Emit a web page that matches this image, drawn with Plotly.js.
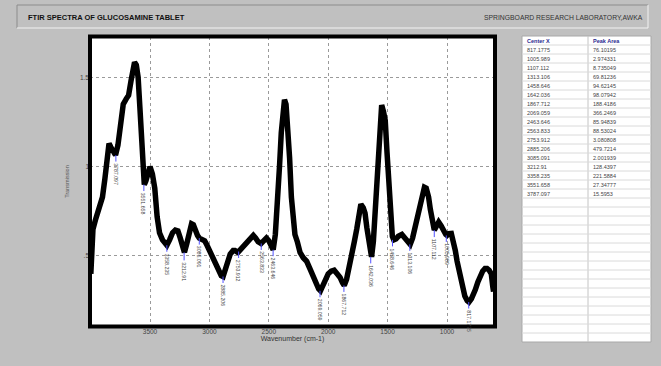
<!DOCTYPE html>
<html>
<head>
<meta charset="utf-8">
<script src="https://cdn.plot.ly/plotly-3.0.1.min.js"></script>
<style>html,body{margin:0;padding:0;background:#c0c0c0;}#chart{width:661px;height:366px;}</style>
</head>
<body>
<div id="chart"></div>
<script>
// ---- data ----
const wavenumber = [3998,3990,3980,3960,3940,3920,3900,3880,3860,3845,3830,3810,3790,3770,3755,3740,3725,3700,3680,3660,3640,3630,3615,3600,3585,3570,3558,3548,3535,3515,3500,3480,3460,3440,3420,3395,3375,3358,3335,3310,3287,3265,3245,3225,3210,3190,3170,3150,3135,3115,3100,3085,3060,3040,3020,3000,2970,2945,2920,2900,2885,2865,2845,2825,2800,2785,2760,2740,2710,2680,2650,2630,2610,2590,2565,2540,2520,2500,2480,2463,2445,2425,2410,2395,2380,2368,2355,2340,2325,2310,2295,2280,2260,2237,2210,2181,2155,2125,2100,2080,2065,2045,2025,2000,1975,1950,1925,1900,1880,1865,1845,1820,1800,1780,1760,1740,1725,1705,1690,1675,1660,1645,1635,1620,1605,1590,1575,1562,1550,1535,1520,1505,1490,1475,1460,1448,1430,1410,1380,1355,1330,1310,1290,1270,1250,1230,1210,1190,1175,1155,1140,1125,1107,1090,1070,1050,1030,1010,1000,985,964,945,930,915,900,885,868,850,830,815,795,780,762,740,720,700,680,663,645,627,615,608];
const transmission = [0.40,0.55,0.65,0.70,0.74,0.77,0.83,0.93,1.08,1.13,1.11,1.08,1.065,1.12,1.20,1.30,1.35,1.38,1.40,1.48,1.56,1.585,1.57,1.50,1.33,1.10,0.95,0.90,0.92,0.98,1.00,0.96,0.88,0.72,0.63,0.59,0.57,0.56,0.59,0.63,0.645,0.64,0.60,0.54,0.52,0.57,0.64,0.68,0.675,0.63,0.615,0.60,0.59,0.585,0.56,0.53,0.48,0.44,0.41,0.39,0.385,0.42,0.47,0.51,0.53,0.53,0.52,0.535,0.55,0.575,0.60,0.615,0.60,0.58,0.57,0.59,0.60,0.585,0.55,0.535,0.62,0.80,1.00,1.19,1.32,1.375,1.35,1.22,1.05,0.83,0.70,0.62,0.58,0.52,0.49,0.47,0.43,0.38,0.34,0.315,0.305,0.33,0.37,0.40,0.415,0.42,0.40,0.38,0.35,0.335,0.37,0.44,0.50,0.58,0.65,0.75,0.79,0.77,0.74,0.66,0.58,0.50,0.495,0.58,0.75,0.95,1.18,1.30,1.345,1.31,1.26,1.08,0.88,0.70,0.61,0.59,0.595,0.61,0.62,0.60,0.575,0.565,0.60,0.66,0.72,0.79,0.85,0.885,0.88,0.83,0.76,0.70,0.645,0.665,0.69,0.67,0.64,0.62,0.615,0.625,0.626,0.58,0.53,0.47,0.42,0.36,0.31,0.275,0.25,0.242,0.26,0.28,0.31,0.355,0.39,0.415,0.43,0.43,0.42,0.40,0.33,0.30];

const peakCenters = ['817.1775','1005.989','1107.112','1313.106','1458.646','1642.036','1867.712','2069.059','2463.646','2563.833','2753.912','2885.206','3085.091','3212.91','3358.235','3551.658','3787.097'];
const peakAreas   = ['76.10195','2.974331','8.735049','69.81236','94.62145','98.07942','188.4186','366.2469','85.94839','88.53024','3.080808','479.7214','2.001939','128.4397','221.5884','27.34777','15.5953'];
const peakLabelY  = [0.242,0.615,0.645,0.565,0.59,0.495,0.335,0.305,0.535,0.57,0.525,0.385,0.60,0.52,0.56,0.90,1.065];

const xTickVals = [3500,3000,2500,2000,1500,1000];
const xTickText = ['3500','3000','2500','2000','1500','1000'];
const yTickVals = [0.5,1,1.5];
const yTickText = ['.5','1','1.5'];

const chartTitle = 'FTIR SPECTRA OF GLUCOSAMINE TABLET';
const labName = 'SPRINGBOARD RESEARCH LABORATORY,AWKA';
const xTitle = 'Wavenumber (cm-1)';
const yTitle = 'Transmission';
const tableHeader = ['Center X','Peak Area'];
const tableRowCount = 33;   // data rows + empty rows shown in the grid

// ---- build ----
const W = 661, H = 366;
const px = v => v / W, py = v => 1 - v / H;
const FONT = 'Liberation Sans, Arial, sans-serif';

const traces = [{
  type: 'scatter', mode: 'lines', x: wavenumber, y: transmission,
  line: {color: '#000', width: 5.5, shape: 'linear'},
  hoverinfo: 'skip'
}];

const annotations = [
  {xref: 'paper', yref: 'paper', x: px(26), y: py(17), xanchor: 'left', yanchor: 'middle',
   text: '<b>' + chartTitle + '</b>', showarrow: false, font: {family: FONT, size: 7.5, color: '#111'}},
  {xref: 'paper', yref: 'paper', x: px(645), y: py(17), xanchor: 'right', yanchor: 'middle',
   text: labName, showarrow: false, font: {family: FONT, size: 6.8, color: '#333'}}
];
peakCenters.forEach((c, i) => {
  annotations.push({
    xref: 'x', yref: 'y', x: parseFloat(c), y: peakLabelY[i],
    text: c, textangle: 90, showarrow: true, arrowhead: 0, arrowwidth: 1,
    arrowcolor: '#5050ff', ax: 0, ay: 19, standoff: 0,
    font: {family: FONT, size: 5.2, color: '#444'}
  });
});

const shapes = [
  {type: 'path', xref: 'paper', yref: 'paper',
   path: `M ${px(17)} ${py(28)} L ${px(17)} ${py(5)} L ${px(648)} ${py(5)}`,
   line: {color: '#8c8c8c', width: 1}},
  {type: 'path', xref: 'paper', yref: 'paper',
   path: `M ${px(648)} ${py(5)} L ${px(648)} ${py(28)} L ${px(17)} ${py(28)}`,
   line: {color: '#f2f2f2', width: 1}},
  {type: 'rect', xref: 'paper', yref: 'paper', x0: px(90), x1: px(495), y0: py(326.5), y1: py(36.5),
   line: {color: '#000', width: 4}, fillcolor: 'rgba(0,0,0,0)'}
];

// table grid (layout geometry)
const TL = 522, TR = 651, TC = 588, TT = 36, RH = 9;
const TB = TT + RH * (tableRowCount + 1);
shapes.push({type: 'rect', xref: 'paper', yref: 'paper', x0: px(TL), x1: px(TR), y0: py(TB), y1: py(TT),
  fillcolor: '#ffffff', line: {color: '#a8a8a8', width: 1}, layer: 'below'});
shapes.push({type: 'line', xref: 'paper', yref: 'paper', x0: px(TC), x1: px(TC), y0: py(TB), y1: py(TT),
  line: {color: '#c4c4c4', width: 1}});
for (let r = 1; r <= tableRowCount; r++) {
  const yy = TT + r * RH;
  shapes.push({type: 'line', xref: 'paper', yref: 'paper', x0: px(TL), x1: px(TR), y0: py(yy), y1: py(yy),
    line: {color: '#dadada', width: 1}});
}
const cellText = (txt, col, row, opts) => ({
  xref: 'paper', yref: 'paper', x: px((col === 0 ? TL : TC) + 3), y: py(TT + row * RH + RH / 2 + 0.5),
  xanchor: 'left', yanchor: 'middle', text: txt, showarrow: false,
  font: Object.assign({family: FONT, size: 5.5, color: '#444'}, opts || {})
});
annotations.push(cellText('<b>' + tableHeader[0] + '</b>', 0, 0, {color: '#2a2a90'}));
annotations.push(cellText('<b>' + tableHeader[1] + '</b>', 1, 0, {color: '#2a2a90'}));
peakCenters.forEach((c, i) => {
  annotations.push(cellText(c, 0, i + 1));
  annotations.push(cellText(peakAreas[i], 1, i + 1));
});

const layout = {
  width: W, height: H,
  margin: {l: 0, r: 0, t: 0, b: 0},
  paper_bgcolor: '#c0c0c0', plot_bgcolor: '#ffffff',
  showlegend: false,
  font: {family: FONT},
  xaxis: {
    domain: [px(90), px(495)], range: [4005, 596],
    tickvals: xTickVals, ticktext: xTickText,
    showgrid: true, gridcolor: '#9a9a9a', griddash: 'dot', gridwidth: 1,
    zeroline: false, showline: false, ticks: '',
    tickfont: {family: FONT, size: 6.5, color: '#444'},
    title: {text: xTitle, font: {family: FONT, size: 7, color: '#333'}, standoff: 2},
    automargin: false
  },
  yaxis: {
    domain: [py(326.5), py(36.5)], range: [0.105, 1.729],
    tickvals: yTickVals, ticktext: yTickText,
    showgrid: true, gridcolor: '#9a9a9a', griddash: 'dot', gridwidth: 1,
    zeroline: false, showline: false, ticks: '',
    tickfont: {family: FONT, size: 6.5, color: '#444'},
    title: {text: yTitle, font: {family: FONT, size: 5.5, color: '#555'}, standoff: 10},
    automargin: false
  },
  annotations: annotations,
  shapes: shapes
};

Plotly.newPlot('chart', traces, layout, {displayModeBar: false, staticPlot: true});
</script>
</body>
</html>
